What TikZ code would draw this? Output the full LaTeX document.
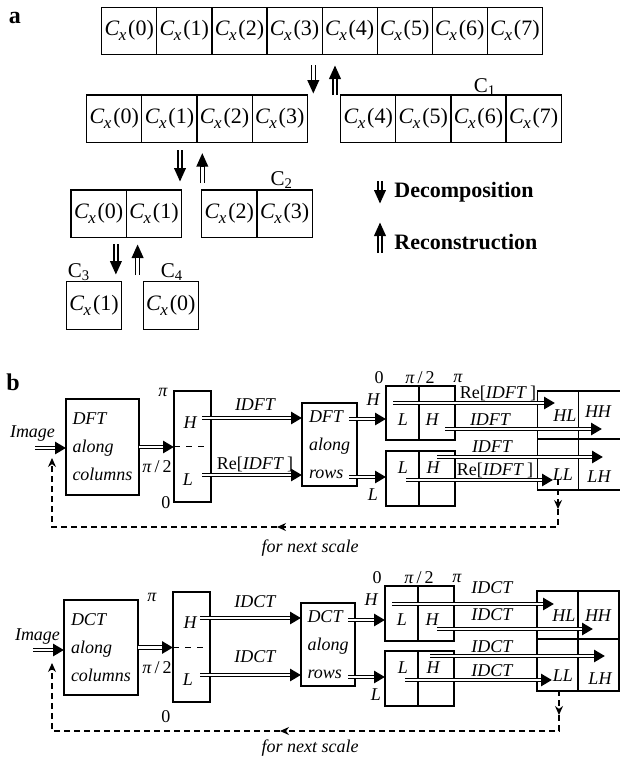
\documentclass[tikz,border=0pt]{standalone}
\usepackage{fontspec}
\setmainfont{Liberation Serif}
\usetikzlibrary{arrows.meta, positioning}

\newcommand{\cx}[1]{\textit{C}\kern-0.3pt\raisebox{-0.5ex}{\fontsize{8.5}{8.5}\selectfont\textit{x}}\kern0.9pt(#1)}
\newcommand{\halfpi}{\textit{π}\,/\,2}

\begin{document}
\begin{tikzpicture}[x=0.5pt, y=-0.5pt, every node/.style={font=\fontsize{9}{11}\selectfont, inner sep=0pt}]
\tikzstyle{cell} = [rectangle, draw=black, line width=0.6pt, outer sep=0pt, minimum width=27.55pt, minimum height=23.5pt, font=\fontsize{11}{13}\selectfont]
\tikzstyle{clbl} = [font=\fontsize{10.5}{12}\selectfont]
\tikzstyle{blk} = [rectangle, draw=black, line width=0.6pt, outer sep=0pt]
\tikzstyle{txt} = [font=\fontsize{9}{14}\selectfont\itshape, align=left]
\tikzstyle{ital} = [font=\fontsize{9}{11}\selectfont\itshape]
\tikzstyle{darr} = [line width=2.6pt, -{Triangle[length=7pt,width=5.5pt]}, postaction={draw=white, line width=1.4pt, shorten >=7pt, -}]
\tikzstyle{barr} = [line width=2.4pt, -{Triangle[length=5.5pt,width=6pt]}, postaction={draw=white, line width=1.2pt, shorten >=5.5pt, -}]
\tikzstyle{fback} = [dash pattern=on 3pt off 2pt, line width=0.6pt]
\tikzstyle{ftip} = [-{Stealth[length=4.5pt,width=4pt]}]

\useasboundingbox (0,0) rectangle (620,762);

% ---------- part a ----------
\node (lbla) [font=\fontsize{12}{14}\selectfont\bfseries] at (15,18) {a};

% top row
\node (a0) [cell] at (129.25,30.8) {\cx{0}};
\node (a1) [cell, right=0pt of a0] {\cx{1}};
\node (a2) [cell, right=0pt of a1] {\cx{2}};
\node (a3) [cell, right=0pt of a2] {\cx{3}};
\node (a4) [cell, right=0pt of a3] {\cx{4}};
\node (a5) [cell, right=0pt of a4] {\cx{5}};
\node (a6) [cell, right=0pt of a5] {\cx{6}};
\node (a7) [cell, right=0pt of a6] {\cx{7}};

% second row
\tikzstyle{cellb} = [cell, minimum width=27.575pt, minimum height=23.85pt]
\node (b0) [cellb] at (114.3,118.8) {\cx{0}};
\node (b1) [cellb, right=0pt of b0] {\cx{1}};
\node (b2) [cellb, right=0pt of b1] {\cx{2}};
\node (b3) [cellb, right=0pt of b2] {\cx{3}};
\node (b4) [cellb] at (368.2,118.8) {\cx{4}};
\node (b5) [cellb, right=0pt of b4] {\cx{5}};
\node (b6) [cellb, right=0pt of b5] {\cx{6}};
\node (b7) [cellb, right=0pt of b6] {\cx{7}};
\node (c1lbl) [clbl] at (485,87) {C\textsubscript{1}};

% third row
\tikzstyle{cellc} = [cell, minimum width=27.65pt, minimum height=23.75pt]
\node (r0) [cellc] at (98.65,213.75) {\cx{0}};
\node (r1) [cellc, right=0pt of r0] {\cx{1}};
\node (r2) [cellc] at (229.35,213.75) {\cx{2}};
\node (r3) [cellc, right=0pt of r2] {\cx{3}};
\node (c2lbl) [clbl] at (281.7,180) {C\textsubscript{2}};

% fourth row
\node (s1) [cellc] at (94.1,305.5) {\cx{1}};
\node (s0) [cellc] at (170.8,305.5) {\cx{0}};
\node (c3lbl) [clbl] at (79,272) {C\textsubscript{3}};
\node (c4lbl) [clbl] at (172,272) {C\textsubscript{4}};

% decomposition / reconstruction arrows
\coordinate (d1a) at (313.3,65);  \coordinate (d1b) at (313.3,94);
\coordinate (u1a) at (335,95);    \coordinate (u1b) at (335,65);
\coordinate (d2a) at (180,150);   \coordinate (d2b) at (180,182);
\coordinate (u2a) at (202.3,183); \coordinate (u2b) at (202.3,152.7);
\coordinate (d3a) at (115.9,244); \coordinate (d3b) at (115.9,275);
\coordinate (u3a) at (137.6,275); \coordinate (u3b) at (137.6,244);
\draw [darr] (d1a) -- (d1b);
\draw [darr] (u1a) -- (u1b);
\draw [darr] (d2a) -- (d2b);
\draw [darr] (u2a) -- (u2b);
\draw [darr] (d3a) -- (d3b);
\draw [darr] (u3a) -- (u3b);

% legend
\coordinate (lg1a) at (380,181); \coordinate (lg1b) at (380,204);
\coordinate (lg2a) at (380,253); \coordinate (lg2b) at (380,222);
\draw [darr] (lg1a) -- (lg1b);
\draw [darr] (lg2a) -- (lg2b);
\node (dec) [anchor=west, font=\fontsize{11}{13}\selectfont\bfseries] at (394,192) {Decomposition};
\node (rec) [anchor=west, font=\fontsize{11}{13}\selectfont\bfseries] at (394,242) {Reconstruction};

% ---------- part b, DFT ----------
\node (lblb) [font=\fontsize{12}{14}\selectfont\bfseries] at (13,382) {b};

\node (img1) [ital] at (32.5,434) {Image};
\node (cols1) [blk, txt, minimum width=36.5pt, minimum height=48pt] at (102.5,447) {DFT\\along\\columns};
\coordinate (in1) at (35,448);
\draw [barr] (in1) -- (in1 -| cols1.west);

\node (hl1) [blk, minimum width=18.5pt, minimum height=55.5pt] at (192.5,446.5) {};
\draw [dashed, line width=0.4pt] (hl1.west) -- (hl1.east);
\draw [barr] (cols1.east) -- (cols1.east -| hl1.west);
\node (hH1) [ital] at (190,423) {H};
\node (hL1) [ital] at (188,480) {L};
\node (pi1) at (163,392) {\textit{π}};
\node (pih1) at (157,467) {\halfpi};
\node (zero1) at (166,503) {0};

\node (rows1) [blk, txt, minimum width=27.5pt, minimum height=41.5pt] at (329.5,444.5) {DFT\\along\\rows};
\coordinate (h1s) at (202,418);
\coordinate (l1s) at (202,475);
\draw [barr] (h1s) -- (h1s -| rows1.west);
\draw [barr] (l1s) -- (l1s -| rows1.west);
\node (t1h) [ital] at (255,405) {IDFT};
\node (t1l) at (255,464) {Re[\textit{IDFT}\,]};

% split boxes
\node (shL1) [blk, minimum width=16.5pt, minimum height=27pt] at (402.5,413) {};
\node (shH1) [blk, minimum width=18pt, minimum height=27pt, right=0pt of shL1] {};
\node (slL1) [blk, minimum width=16.5pt, minimum height=27.5pt] at (402.5,478.5) {};
\node (slH1) [blk, minimum width=18pt, minimum height=27.5pt, right=0pt of slL1] {};
\node (tshL1) [ital] at (403,420) {L};
\node (tshH1) [ital] at (432,420) {H};
\node (tslL1) [ital] at (403,468) {L};
\node (tslH1) [ital] at (433,468) {H};
\node (f01) at (379,378) {0};
\node (f11) at (420,378) {\halfpi};
\node (f21) at (458,378) {\textit{π}};
\coordinate (r1h) at (349,419);
\coordinate (r1l) at (349,477);
\draw [barr] (r1h) -- (r1h -| shL1.west);
\draw [barr] (r1l) -- (r1l -| slL1.west);
\node (rH1) [ital] at (373,400) {H};
\node (rL1) [ital] at (373,495) {L};

% output quadrants
\node (HL1) [blk, minimum width=20.5pt, minimum height=24pt] at (558,415) {};
\node (HH1) [blk, minimum width=22pt, minimum height=24pt, right=0pt of HL1] {};
\node (LL1) [blk, minimum width=20.5pt, minimum height=25.5pt] at (558,464.5) {};
\node (LH1) [blk, minimum width=22pt, minimum height=25.5pt, right=0pt of LL1] {};
\node (tHL1) [ital] at (565,416) {HL};
\node (tHH1) [ital] at (598,412) {HH};
\node (tLL1) [ital] at (563,475) {LL};
\node (tLH1) [ital] at (599,477) {LH};

\coordinate (o1a) at (393,403); \coordinate (o1b) at (555,403);
\coordinate (o2a) at (445,429); \coordinate (o2b) at (602,429);
\coordinate (o3a) at (437,457); \coordinate (o3b) at (603,457);
\coordinate (o4a) at (406,480); \coordinate (o4b) at (553,480);
\draw [barr] (o1a) -- (o1b);
\draw [barr] (o2a) -- (o2b);
\draw [barr] (o3a) -- (o3b);
\draw [barr] (o4a) -- (o4b);
\node (to11) at (498,393) {Re[\textit{IDFT}\,]};
\node (to21) [ital] at (490,420) {IDFT};
\node (to31) [ital] at (492,447) {IDFT};
\node (to41) at (495,470) {Re[\textit{IDFT}\,]};

% feedback
\coordinate (fb1s) at (558,479);
\coordinate (fb1m) at (558,509);
\coordinate (fb1a) at (558,527);
\coordinate (fb1n) at (277,527);
\coordinate (fb1b) at (52,527);
\coordinate (fb1c) at (52,458);
\draw [fback, ftip] (fb1s) -- (fb1m);
\draw [fback, ftip] (fb1m) -- (fb1a) -- (fb1n);
\draw [fback, ftip] (fb1n) -- (fb1b) -- (fb1c);
\node (fns1) [ital] at (310,548) {for next scale};

% ---------- part b, DCT ----------
\node (img2) [ital] at (37.5,637) {Image};
\node (cols2) [blk, txt, minimum width=37pt, minimum height=47.5pt] at (101,647.5) {DCT\\along\\columns};
\coordinate (in2) at (33,650);
\draw [barr] (in2) -- (in2 -| cols2.west);

\node (hl2) [blk, minimum width=18.5pt, minimum height=55pt] at (191.5,647) {};
\draw [dashed, line width=0.4pt] (hl2.west) -- (hl2.east);
\draw [barr] (cols2.east) -- (cols2.east -| hl2.west);
\node (hH2) [ital] at (190,623) {H};
\node (hL2) [ital] at (188,680) {L};
\node (pi2) at (152,597) {\textit{π}};
\node (pih2) at (157,668) {\halfpi};
\node (zero2) at (166,717) {0};

\node (rows2) [blk, txt, minimum width=27pt, minimum height=41.5pt] at (328,644.5) {DCT\\along\\rows};
\coordinate (h2s) at (200,618);
\coordinate (l2s) at (200,675);
\draw [barr] (h2s) -- (h2s -| rows2.west);
\draw [barr] (l2s) -- (l2s -| rows2.west);
\node (t2h) [ital] at (255,602) {IDCT};
\node (t2l) [ital] at (255,657) {IDCT};

% split boxes
\node (shL2) [blk, minimum width=16.5pt, minimum height=27.5pt] at (401.5,613.5) {};
\node (shH2) [blk, minimum width=18pt, minimum height=27.5pt, right=0pt of shL2] {};
\node (slL2) [blk, minimum width=16.5pt, minimum height=27.5pt] at (401.5,678.5) {};
\node (slH2) [blk, minimum width=18pt, minimum height=27.5pt, right=0pt of slL2] {};
\node (tshL2) [ital] at (402,620) {L};
\node (tshH2) [ital] at (432,620) {H};
\node (tslL2) [ital] at (403,668) {L};
\node (tslH2) [ital] at (433,668) {H};
\node (f02) at (377,578) {0};
\node (f12) at (419,578) {\halfpi};
\node (f22) at (457,578) {\textit{π}};
\coordinate (r2h) at (348,620);
\coordinate (r2l) at (348,677);
\draw [barr] (r2h) -- (r2h -| shL2.west);
\draw [barr] (r2l) -- (r2l -| slL2.west);
\node (rH2) [ital] at (371,600) {H};
\node (rL2) [ital] at (376,695) {L};

% output quadrants
\node (HL2) [blk, minimum width=20.5pt, minimum height=24pt] at (557.5,615) {};
\node (HH2) [blk, minimum width=20.5pt, minimum height=24pt, right=0pt of HL2] {};
\node (LL2) [blk, minimum width=20.5pt, minimum height=26pt] at (557.5,665) {};
\node (LH2) [blk, minimum width=20.5pt, minimum height=26pt, right=0pt of LL2] {};
\node (tHL2) [ital] at (564,616) {HL};
\node (tHH2) [ital] at (598,616) {HH};
\node (tLL2) [ital] at (563,676) {LL};
\node (tLH2) [ital] at (600,679) {LH};

\coordinate (p1a) at (392,604); \coordinate (p1b) at (554,604);
\coordinate (p2a) at (437,629); \coordinate (p2b) at (593,629);
\coordinate (p3a) at (430,656); \coordinate (p3b) at (605,656);
\coordinate (p4a) at (405,680); \coordinate (p4b) at (552,680);
\draw [barr] (p1a) -- (p1b);
\draw [barr] (p2a) -- (p2b);
\draw [barr] (p3a) -- (p3b);
\draw [barr] (p4a) -- (p4b);
\node (to12) [ital] at (492,588) {IDCT};
\node (to22) [ital] at (492,615) {IDCT};
\node (to32) [ital] at (492,647) {IDCT};
\node (to42) [ital] at (492,671) {IDCT};

% feedback
\coordinate (fb2s) at (559,690);
\coordinate (fb2m) at (559,715);
\coordinate (fb2a) at (559,731);
\coordinate (fb2n) at (280,731);
\coordinate (fb2b) at (52,731);
\coordinate (fb2c) at (52,663);
\draw [fback, ftip] (fb2s) -- (fb2m);
\draw [fback, ftip] (fb2m) -- (fb2a) -- (fb2n);
\draw [fback, ftip] (fb2n) -- (fb2b) -- (fb2c);
\node (fns2) [ital] at (310,748) {for next scale};

\end{tikzpicture}
\end{document}
